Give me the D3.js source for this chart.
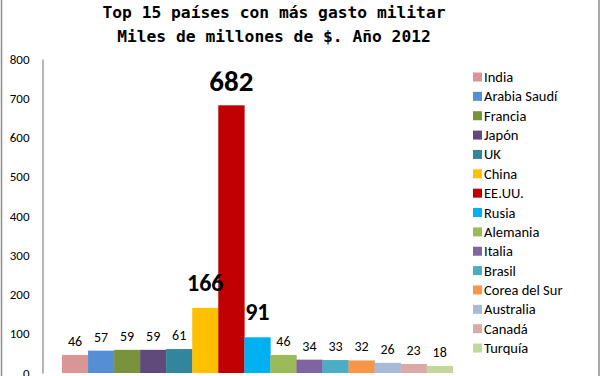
<!DOCTYPE html>
<html><head><meta charset="utf-8">
<script src="https://cdn.jsdelivr.net/npm/d3@7"></script>
<style>html,body{margin:0;padding:0;background:#fff;overflow:hidden}</style>
</head><body>
<svg id="c" width="601" height="376"></svg>
<script>
const countries = ["India","Arabia Saudí","Francia","Japón","UK","China","EE.UU.","Rusia","Alemania","Italia","Brasil","Corea del Sur","Australia","Canadá","Turquía"];
const spending = [46,57,59,59,61,166,682,91,46,34,33,32,26,23,18];
const colors = ["#D99694","#558ED5","#77933C","#604A7B","#31859C","#FFC000","#C00000","#00B0F0","#9BBB59","#8064A2","#4BACC6","#F79646","#A9BAD8","#DBA9A8","#C3D69B"];
const highlighted = ["China","EE.UU.","Rusia"];
const yTicks = [0,100,200,300,400,500,600,700,800];
const titleLines = ["Top 15 países con más gasto militar","Miles de millones de $. Año 2012"];

const svg = d3.select("#c");
const font = "Calibri, Carlito, Lato, 'Open Sans', sans-serif";

// border
svg.append("line").attr("x1",1.5).attr("x2",1.5).attr("y1",0).attr("y2",376).attr("stroke","#8c8c8c").attr("stroke-width",1.5);
svg.append("line").attr("x1",599).attr("x2",599).attr("y1",0).attr("y2",376).attr("stroke","#8c8c8c").attr("stroke-width",1.5);

// title
svg.selectAll("text.title").data(titleLines).join("text")
  .attr("x",274).attr("y",(d,i)=>18+i*23.5)
  .attr("text-anchor","middle")
  .attr("font-family","'DejaVu Sans Mono', 'Liberation Mono', monospace")
  .attr("font-weight","bold").attr("font-size","16.3px").attr("fill","#000")
  .text(d=>d);

const y = d3.scaleLinear().domain([0,800]).range([373,59]);
const x = d3.scaleBand().domain(countries).range([62,452.7]).padding(0);

// y axis
const ax = svg.append("g").attr("transform","translate(42.5,0)")
  .call(d3.axisLeft(y).tickValues(yTicks).tickSize(0).tickPadding(13));
ax.select(".domain").attr("stroke","#868686").attr("stroke-width",1.2);
ax.selectAll("text").attr("font-family",font).attr("font-size","13px").attr("fill","#000");

// bars
svg.selectAll("rect.bar").data(countries).join("rect")
  .attr("x",d=>x(d)).attr("width",x.bandwidth()+0.3)
  .attr("y",(d,i)=>y(spending[i])).attr("height",(d,i)=>y(0)-y(spending[i]))
  .attr("fill",(d,i)=>colors[i]);

// labels
svg.selectAll("text.lab").data(countries).join("text")
  .attr("x",d=>x(d)+x.bandwidth()/2)
  .attr("y",(d,i)=>{
    const big = highlighted.includes(d);
    if (d==="EE.UU.") return y(spending[i]) - 14;
    return y(spending[i]) - (big ? 17 : 9);
  })
  .attr("text-anchor","middle")
  .attr("font-family",font)
  .attr("font-weight",d=>highlighted.includes(d)?"bold":"normal")
  .attr("font-size",d=>d==="EE.UU."?"29px":(highlighted.includes(d)?"24px":"14px"))
  .attr("fill","#000")
  .text((d,i)=>spending[i]);

// legend
const lg = svg.append("g");
const rows = lg.selectAll("g").data(countries).join("g")
  .attr("transform",(d,i)=>`translate(473,${77+i*19.36})`);
rows.append("rect").attr("x",0).attr("y",-4.5).attr("width",9).attr("height",9).attr("fill",(d,i)=>colors[i]);
rows.append("text").attr("x",11).attr("y",5)
  .attr("font-family",font).attr("font-size","14.5px").attr("fill","#000")
  .text(d=>d);
</script>
</body></html>
